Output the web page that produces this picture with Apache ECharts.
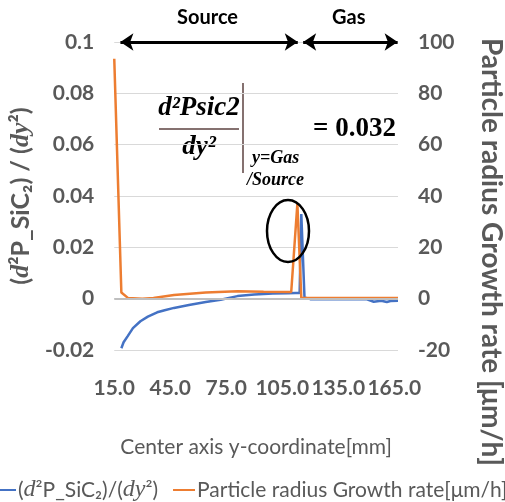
<!DOCTYPE html>
<html>
<head>
<meta charset="utf-8">
<script src="https://cdn.jsdelivr.net/npm/echarts@6/dist/echarts.min.js"></script>
<style>
  html, body { margin: 0; padding: 0; background: #fff; }
  #main { width: 505px; height: 502px; }
</style>
</head>
<body>
<div id="main"></div>
<script>
// y-coordinate [mm] and values
const blueX = [18.8, 20, 22.3, 25, 29, 33, 38, 42, 47, 55, 64, 72, 81, 90, 100, 108, 112, 114.3, 115.2, 116.9, 120, 130, 140, 150, 154, 158, 161, 163, 167];
const blueY = [-0.0193, -0.017, -0.0145, -0.0115, -0.0088, -0.007, -0.0053, -0.0045, -0.0036, -0.0025, -0.0013, -0.0004, 0.001, 0.0016, 0.002, 0.0021, 0.0022, 0.0022, 0.033, 0.0005, -0.0002, -0.0002, -0.0002, -0.0002, -0.0012, -0.0008, -0.0013, -0.0009, -0.0008];
const orangeX = [15, 18.8, 22.3, 30, 36, 47, 64, 81, 95, 109.8, 113.1, 115.2, 130, 150, 167];
const orangeY = [93.5, 2.4, 0.3, 0, 0.3, 1.4, 2.4, 2.9, 2.7, 2.6, 37, 0.3, 0.3, 0.3, 0.3];
const xTicks = { min: 15, max: 167, step: 30 };
const leftTicks = { min: -0.02, max: 0.1, step: 0.02 };
const rightTicks = { min: -20, max: 100, step: 20 };

const grey = "#595959";
const font = "Lato";
const serif = "Liberation Serif";

const chart = echarts.init(document.getElementById("main"));

const pairs = (xs, ys) => xs.map((x, i) => [x, ys[i]]);

const option = {
  animation: false,
  textStyle: { fontFamily: font },
  grid: { left: 106, right: 107, top: 42, bottom: 152 },
  legend: {
    top: 473,
    left: -11,
    width: 600,
    icon: "rect",
    itemWidth: 22,
    itemHeight: 2,
    itemGap: 15,
    textStyle: {
      color: grey,
      fontSize: 21,
      fontFamily: font,
      padding: [0, 0, 0, -3],
      rich: {
        t: { fontFamily: font, fontSize: 21, color: grey },
        it: { fontFamily: serif, fontStyle: "italic", fontSize: 24, color: grey },
      },
    },
    formatter: (name) =>
      name.startsWith("(") ? "{t|(}{it|d}{t|²P_SiC₂)/(}{it|dy}{t|²)}" : name,
  },
  xAxis: {
    type: "value",
    min: xTicks.min,
    max: xTicks.max,
    interval: xTicks.step,
    name: "Center axis y-coordinate[mm]",
    nameLocation: "middle",
    nameGap: 87,
    nameTextStyle: { color: grey, fontSize: 21, fontFamily: font },
    axisLine: { show: false },
    axisTick: { show: false },
    splitLine: { show: false },
    axisLabel: {
      color: grey,
      fontSize: 21,
      fontWeight: "bold",
      margin: 28,
      showMaxLabel: false,
      formatter: (v) => v.toFixed(1),
    },
  },
  yAxis: [
    {
      type: "value",
      min: leftTicks.min,
      max: leftTicks.max,
      interval: leftTicks.step,
      name: "{b|(}{it|d}{b|²P_SiC₂) / (}{it|dy}{b|²)}",
      nameLocation: "middle",
      nameGap: 68,
      nameTextStyle: {
        color: grey,
        fontSize: 25,
        fontWeight: "bold",
        rich: {
          b: { fontFamily: font, fontWeight: "bold", fontSize: 25, color: grey },
          it: { fontFamily: serif, fontStyle: "italic", fontWeight: "bold", fontSize: 26, color: grey },
        },
      },
      axisLine: { show: false },
      axisTick: { show: false },
      splitLine: { lineStyle: { color: "#D9D9D9", width: 1 } },
      axisLabel: { color: grey, fontSize: 21, fontWeight: "bold", margin: 20 },
    },
    {
      type: "value",
      min: rightTicks.min,
      max: rightTicks.max,
      interval: rightTicks.step,
      axisLine: { show: false },
      axisTick: { show: false },
      splitLine: { show: false },
      axisLabel: { color: grey, fontSize: 21, fontWeight: "bold", margin: 20 },
    },
  ],
  series: [
    {
      name: "(d²P_SiC₂)/(dy²)",
      type: "line",
      yAxisIndex: 0,
      data: pairs(blueX, blueY),
      showSymbol: false,
      symbol: "none",
      lineStyle: { color: "#4472C4", width: 2.5 },
      itemStyle: { color: "#4472C4" },
      z: 3,
      markLine: {
        silent: true,
        animation: false,
        label: { show: false },
        symbol: "none",
        data: [
          // darker zero line
          [
            { coord: [xTicks.min, 0], lineStyle: { color: "#BFBFBF", width: 2, type: "solid" } },
            { coord: [xTicks.max, 0] },
          ],
          // Source / Gas arrows
          [
            { coord: [18.3, 0.1], symbol: "arrow", lineStyle: { color: "#000", width: 3, type: "solid" } },
            { coord: [113.3, 0.1], symbol: "arrow" },
          ],
          [
            { coord: [116.2, 0.1], symbol: "arrow", lineStyle: { color: "#000", width: 3, type: "solid" } },
            { coord: [166.8, 0.1], symbol: "arrow" },
          ],
        ],
        symbolSize: [13, 13],
      },
    },
    {
      name: "Particle radius Growth rate[μm/h]",
      type: "line",
      yAxisIndex: 1,
      data: pairs(orangeX, orangeY),
      showSymbol: false,
      symbol: "none",
      lineStyle: { color: "#ED7D31", width: 2.5 },
      itemStyle: { color: "#ED7D31" },
      z: 4,
    },
  ],
  graphic: [
    { type: "text", left: 177, top: 8, style: { text: "Source", fontSize: 20, fontWeight: "bold", fontFamily: font, fill: "#000" } },
    { type: "text", left: 332, top: 8, style: { text: "Gas", fontSize: 20, fontWeight: "bold", fontFamily: font, fill: "#000" } },
    {
      type: "text",
      x: 491, y: 252, rotation: -Math.PI / 2,
      style: {
        text: "Particle radius Growth rate [μm/h]",
        fontSize: 28, fontWeight: "bold", fontFamily: font, fill: grey,
        align: "center", verticalAlign: "middle",
      },
    },
    // formula annotation
    {
      type: "text", x: 199, y: 108,
      style: { text: "d²Psic2", fontSize: 27, fontStyle: "italic", fontWeight: "bold", fontFamily: serif, fill: "#000", align: "center", verticalAlign: "middle" },
    },
    { type: "rect", shape: { x: 159, y: 128, width: 80, height: 2 }, style: { fill: "#857170" } },
    {
      type: "text", x: 199, y: 147,
      style: { text: "dy²", fontSize: 27, fontStyle: "italic", fontWeight: "bold", fontFamily: serif, fill: "#000", align: "center", verticalAlign: "middle" },
    },
    { type: "rect", shape: { x: 242, y: 83, width: 2, height: 90 }, style: { fill: "#857170" } },
    {
      type: "text", x: 313, y: 129,
      style: { text: "= 0.032", fontSize: 27, fontWeight: "bold", fontFamily: serif, fill: "#000", verticalAlign: "middle" },
    },
    {
      type: "text", x: 252, y: 158,
      style: { text: "y=Gas", fontSize: 18, fontStyle: "italic", fontWeight: "bold", fontFamily: serif, fill: "#000", verticalAlign: "middle" },
    },
    {
      type: "text", x: 247, y: 180,
      style: { text: "/Source", fontSize: 18, fontStyle: "italic", fontWeight: "bold", fontFamily: serif, fill: "#000", verticalAlign: "middle" },
    },
    {
      type: "ellipse",
      shape: { cx: 288, cy: 231, rx: 21, ry: 31 },
      style: { fill: "none", stroke: "#000", lineWidth: 2.5 },
      z: 100,
    },
  ],
};

chart.setOption(option);
</script>
</body>
</html>
